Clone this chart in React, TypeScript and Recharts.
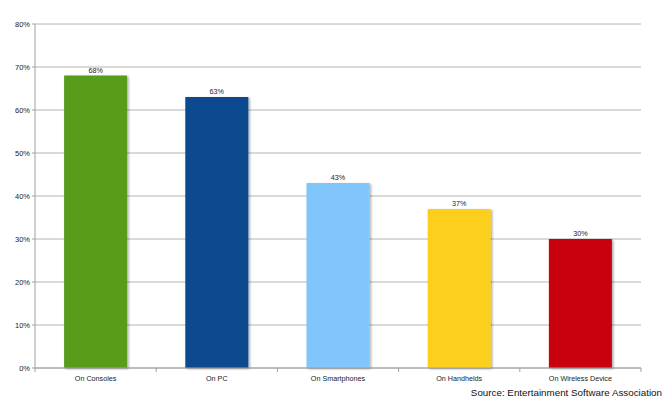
import { BarChart, Bar, XAxis, YAxis, CartesianGrid, Cell, LabelList } from 'recharts'

const platforms = ['On Consoles', 'On PC', 'On Smartphones', 'On Handhelds', 'On Wireless Device']
const shares = [68, 63, 43, 37, 30]
const barColors = ['#589c1c', '#0b4a8e', '#80c6fa', '#fccf1f', '#c9000a']
const yTicks = [0, 10, 20, 30, 40, 50, 60, 70, 80]

const data = platforms.map((name, i) => ({ name, value: shares[i] }))

const font = '"Liberation Sans", Arial, sans-serif'

function CategoryTick(props: any) {
  const { x, y, payload } = props
  const half = payload.offset ?? 60
  return (
    <g>
      <line x1={x - half} y1={y - 8} x2={x - half} y2={y - 4} stroke="#a0a0a0" />
      {payload.index === platforms.length - 1 && (
        <line x1={x + half} y1={y - 8} x2={x + half} y2={y - 4} stroke="#a0a0a0" />
      )}
      <text x={x} y={y + 5} textAnchor="middle" fontSize={7.2} fill="#222" fontFamily={font}>
        {payload.value}
      </text>
    </g>
  )
}

export default function App() {
  return (
    <div style={{ position: 'absolute', left: 0, top: 0, width: 670, height: 407, background: '#fff', fontFamily: font }}>
      <BarChart width={670} height={407} data={data} margin={{ top: 24, right: 29, bottom: 6, left: 8 }} barCategoryGap="24%">
        <defs>
          <filter id="barShadow" x="-10%" y="-10%" width="130%" height="130%">
            <feDropShadow dx="1.5" dy="1" stdDeviation="1" floodColor="#000" floodOpacity="0.35" />
          </filter>
        </defs>
        <CartesianGrid vertical={false} stroke="#b4b4b4" />
        <XAxis
          dataKey="name"
          axisLine={{ stroke: '#a0a0a0' }}
          tickLine={false}
          tick={<CategoryTick />}
          height={33}
          interval={0}
        />
        <YAxis
          domain={[0, 80]}
          ticks={yTicks}
          tickFormatter={(v: number) => `${v}%`}
          width={27}
          tickSize={3}
          tickMargin={2}
          axisLine={{ stroke: '#a0a0a0' }}
          tickLine={{ stroke: '#a0a0a0' }}
          tick={{ fontSize: 7.5, fill: '#222', fontFamily: font }}
          interval={0}
        />
        <YAxis
          yAxisId="frame"
          orientation="right"
          width={0}
          tick={false}
          tickLine={false}
          axisLine={{ stroke: '#b4b4b4' }}
        />
        <Bar dataKey="value" isAnimationActive={false} filter="url(#barShadow)">
          {data.map((d, i) => (
            <Cell key={d.name} fill={barColors[i]} />
          ))}
          <LabelList
            dataKey="value"
            position="top"
            offset={3}
            formatter={(v: any) => `${v}%`}
            style={{ fontSize: 7.2, fill: '#222', fontFamily: font }}
          />
        </Bar>
      </BarChart>
      <div
        style={{
          position: 'absolute',
          right: 8,
          top: 387,
          fontSize: 9.8,
          color: '#111',
          fontFamily: font,
          whiteSpace: 'nowrap',
        }}
      >
        Source: Entertainment Software Association
      </div>
    </div>
  )
}
